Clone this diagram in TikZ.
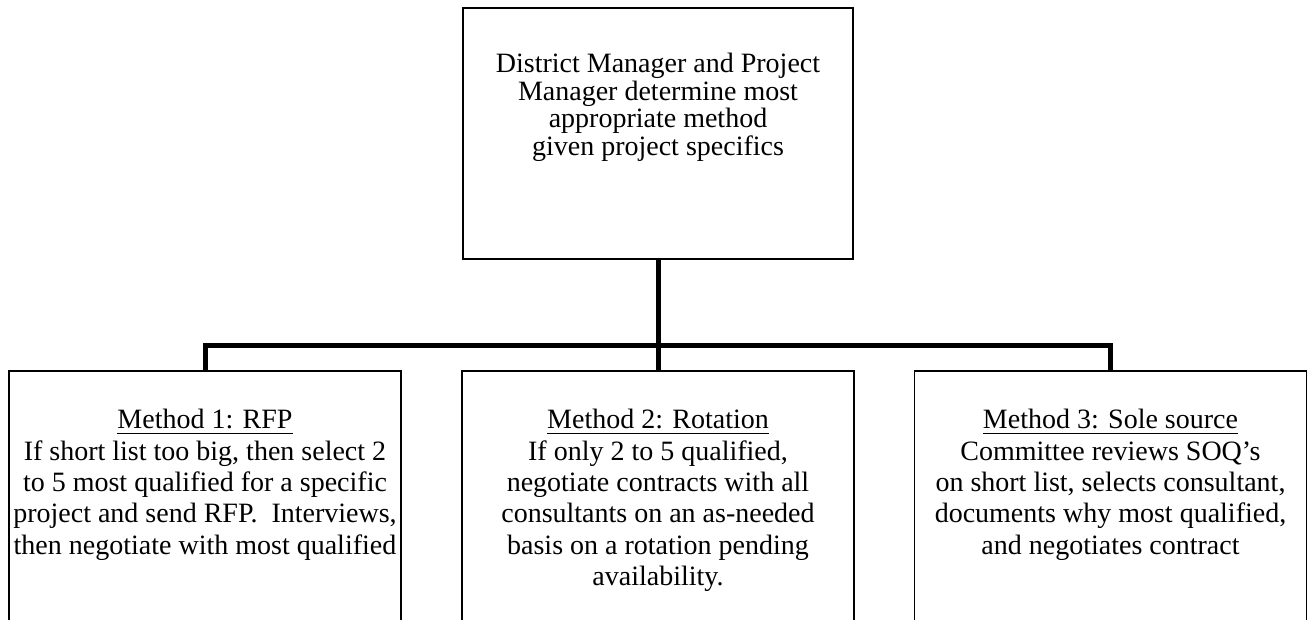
\documentclass[tikz,border=0pt]{standalone}
\usepackage{fontspec}
\setmainfont{Liberation Serif}
\newcommand\myul[1]{\setbox0\hbox{#1}\leavevmode\rlap{\rule[-5.5pt]{\wd0}{1.8pt}}\box0}
\tikzset{
  box/.style={draw, line width=1.7pt, rectangle, inner sep=0pt, outer sep=0pt, fill=none},
  topbox/.style={box, minimum width=390.6pt, minimum height=251pt},
  methodbox/.style={box, minimum width=392pt, minimum height=269pt},
  toptxt/.style={align=center, inner sep=0pt, anchor=north, font=\fontsize{28}{27.8}\selectfont},
  methtxt/.style={align=center, inner sep=0pt, anchor=north, font=\fontsize{28}{31.3}\selectfont},
  trunk/.style={line width=5pt, line cap=butt, line join=miter}
}
\begin{document}
\begin{tikzpicture}[x=1pt,y=-1pt]
\useasboundingbox (0,0) rectangle (1309,619);
\clip (0,0) rectangle (1309,619);
\fill[white] (0,0) rectangle (1309,619);

\node[topbox] (top) at (658,133.8) {};
\node[methodbox] (m1) at (205,505.5) {};
\node[methodbox] (m2) at (658,505.5) {};
\node[methodbox] (m3) at (1110.5,505.5) {};

\node[toptxt] (toptext) at ([yshift=-44.3pt]top.north) {District Manager and Project\\Manager determine most\\appropriate method\\given project specifics};

\node[methtxt] (t1) at ([yshift=-38.2pt]m1.north) {\myul{Method 1: RFP}\\If short list too big, then select 2\\to 5 most qualified for a specific\\project and send RFP.~ Interviews,\\then negotiate with most qualified};
\node[methtxt] (t2) at ([yshift=-38.2pt]m2.north) {\myul{Method 2: Rotation}\\If only 2 to 5 qualified,\\negotiate contracts with all\\consultants on an as-needed\\basis on a rotation pending\\availability.};
\node[methtxt] (t3) at ([yshift=-38.2pt]m3.north) {\myul{Method 3: Sole source}\\Committee reviews SOQ’s\\on short list, selects consultant,\\documents why most qualified,\\and negotiates contract};

\coordinate (bar) at (658,345);
\draw[trunk] (top.south) -- (m2.north);
\draw[trunk] (m1.north) |- (bar) -| (m3.north);
\end{tikzpicture}
\end{document}
